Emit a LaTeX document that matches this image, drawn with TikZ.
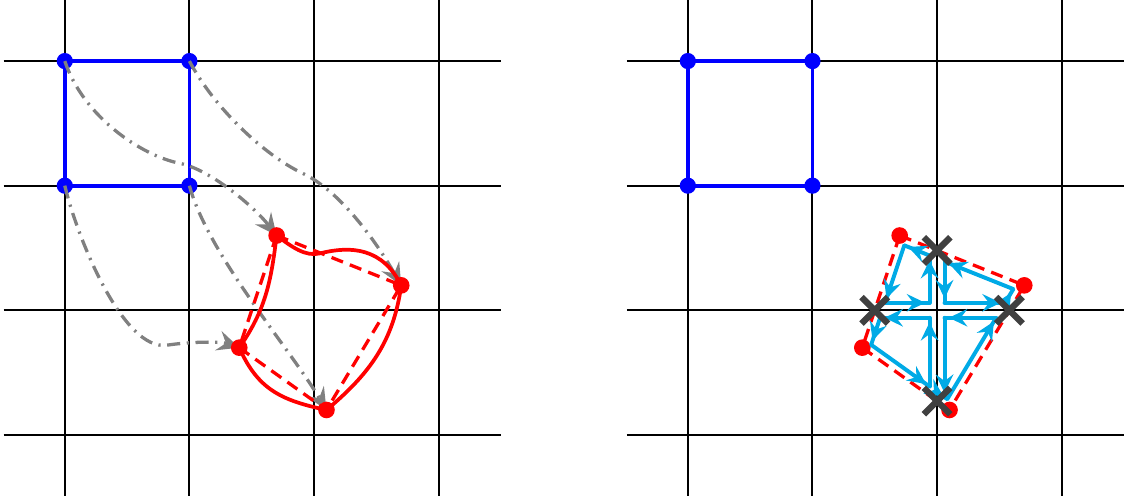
\documentclass[tikz,border=0pt]{standalone}
\usetikzlibrary{arrows.meta,calc,decorations.markings,shapes.misc}
\definecolor{cyanc}{RGB}{0,170,230}
\definecolor{xgray}{RGB}{64,64,64}
\definecolor{mapgray}{RGB}{128,128,128}
\begin{document}
\begin{tikzpicture}[x=1cm,y=1cm,
  gridline/.style={black,line width=0.45pt},
  bluesq/.style={blue,line width=0.85pt},
  bluedot/.style={circle,fill=blue,inner sep=0pt,minimum size=3.7pt},
  reddot/.style={circle,fill=red,inner sep=0pt,minimum size=3.8pt},
  mapline/.style={mapgray,line width=0.75pt,dash pattern=on 3pt off 1.5pt on 0.5pt off 1.5pt,-{Stealth[length=5pt,width=4.6pt,inset=1.8pt]}},
  redcurve/.style={red,line width=0.85pt},
  reddash/.style={red,line width=0.75pt,dash pattern=on 2.8pt off 1.7pt},
  cyanedge/.style={cyanc,line width=0.9pt,line cap=round,postaction={decorate},
    decoration={markings,mark=at position -1pt with {\arrow{Stealth[length=4.2pt,width=4pt,inset=1.5pt]}}}},
  xmark/.style={draw=xgray,cross out,line width=1.45pt,inner sep=0pt,minimum size=4.6pt}
]
\useasboundingbox (-0.52,-1.52) rectangle (8.5,2.49);
% grids
\foreach \ox in {0,5}{
  \foreach \i in {0,...,3} \draw[gridline] (\ox+\i,-1.49) -- (\ox+\i,2.5);
  \foreach \j in {-1,...,2} \draw[gridline] (\ox-0.49,\j) -- (\ox+3.5,\j);
}
% ---------------- left panel ----------------
\coordinate (LTL) at (0,2);
\coordinate (LTR) at (1,2);
\coordinate (LBL) at (0,1);
\coordinate (LBR) at (1,1);
\coordinate (LA) at (1.7,0.6);
\coordinate (LB) at (2.7,0.2);
\coordinate (LC) at (1.4,-0.3);
\coordinate (LD) at (2.1,-0.8);
\draw[bluesq] (LTL) -- (LTR) -- (LBR) -- (LBL) -- cycle;
\foreach \p in {LTL,LTR,LBR,LBL} \node[bluedot] (n\p) at (\p) {};
% mapping curves
\coordinate (m1) at (0.92,1.18);
\coordinate (m2) at (1.909,1.099);
\coordinate (m3) at (0.82,-0.28);
\draw[mapline] (LTL) .. controls +(0.15,-0.45) and +(-0.3,0.06) .. (m1)
  .. controls +(0.25,-0.05) and +(-0.18,0.23) .. (LA);
\draw[mapline] (LTR) .. controls +(0.2,-0.38) and +(-0.3,0.14) .. (m2)
  .. controls +(0.3,-0.14) and +(-0.2,0.35) .. (LB);
\draw[mapline] (LBL) .. controls +(0.1,-0.42) and +(-0.35,-0.05) .. (m3)
  .. controls +(0.2,0.03) and +(-0.15,0.05) .. (LC);
\draw[mapline] (LBR) .. controls +(0.15,-0.55) and +(-0.3,0.5) .. (LD);
% image cell
\draw[reddash] (LA) -- (LB) -- (LD) -- (LC) -- cycle;
\coordinate (mr) at (2.05,0.457);
\draw[redcurve] (LA) .. controls +(0.12,-0.09) and +(-0.12,-0.03) .. (mr)
  .. controls +(0.25,0.063) and +(-0.15,0.3) .. (LB);
\draw[redcurve] (LB) to[out=-98,in=40] (LD);
\draw[redcurve] (LD) to[out=168,in=-66,looseness=1.1] (LC);
\draw[redcurve] (LC) to[out=55,in=-97] (LA);
\foreach \p in {LA,LB,LC,LD} \node[reddot] (n\p) at (\p) {};
% ---------------- right panel ----------------
\coordinate (RTL) at (5,2);
\coordinate (RTR) at (6,2);
\coordinate (RBL) at (5,1);
\coordinate (RBR) at (6,1);
\coordinate (RA) at (6.7,0.6);
\coordinate (RB) at (7.7,0.2);
\coordinate (RC) at (6.4,-0.3);
\coordinate (RD) at (7.1,-0.8);
\draw[bluesq] (RTL) -- (RTR) -- (RBR) -- (RBL) -- cycle;
\foreach \p in {RTL,RTR,RBR,RBL} \node[bluedot] (n\p) at (\p) {};
\draw[reddash] (RA) -- (RB) -- (RD) -- (RC) -- cycle;
\foreach \p in {RA,RB,RC,RD} \node[reddot] (n\p) at (\p) {};
% intersection points
\coordinate (xT) at ($(RA)!0.3!(RB)$);
\coordinate (xR) at ($(RB)!0.2!(RD)$);
\coordinate (xB) at ($(RD)!0.142857!(RC)$);
\coordinate (xL) at ($(RC)!0.333333!(RA)$);
% sub-polygons (inset)
\coordinate (p1a) at (6.737,0.521);
\coordinate (p1b) at (6.583,0.06);
\coordinate (p1c) at (6.94,0.06);
\coordinate (p1d) at (6.94,0.439);
\coordinate (p2a) at (7.06,0.391);
\coordinate (p2b) at (7.06,0.06);
\coordinate (p2c) at (7.546,0.06);
\coordinate (p2d) at (7.612,0.170);
\coordinate (p3a) at (6.543,-0.06);
\coordinate (p3b) at (6.471,-0.277);
\coordinate (p3c) at (6.94,-0.612);
\coordinate (p3d) at (6.94,-0.06);
\coordinate (p4a) at (7.06,-0.06);
\coordinate (p4b) at (7.06,-0.698);
\coordinate (p4c) at (7.082,-0.713);
\coordinate (p4d) at (7.474,-0.06);
\foreach \k in {1,2,3,4}{
  \draw[cyanedge] (p\k a) -- (p\k b);
  \draw[cyanedge] (p\k b) -- (p\k c);
  \draw[cyanedge] (p\k c) -- (p\k d);
  \draw[cyanedge] (p\k d) -- (p\k a);
}
\foreach \p in {xT,xR,xB,xL} \node[xmark] (n\p) at (\p) {};
\end{tikzpicture}
\end{document}
